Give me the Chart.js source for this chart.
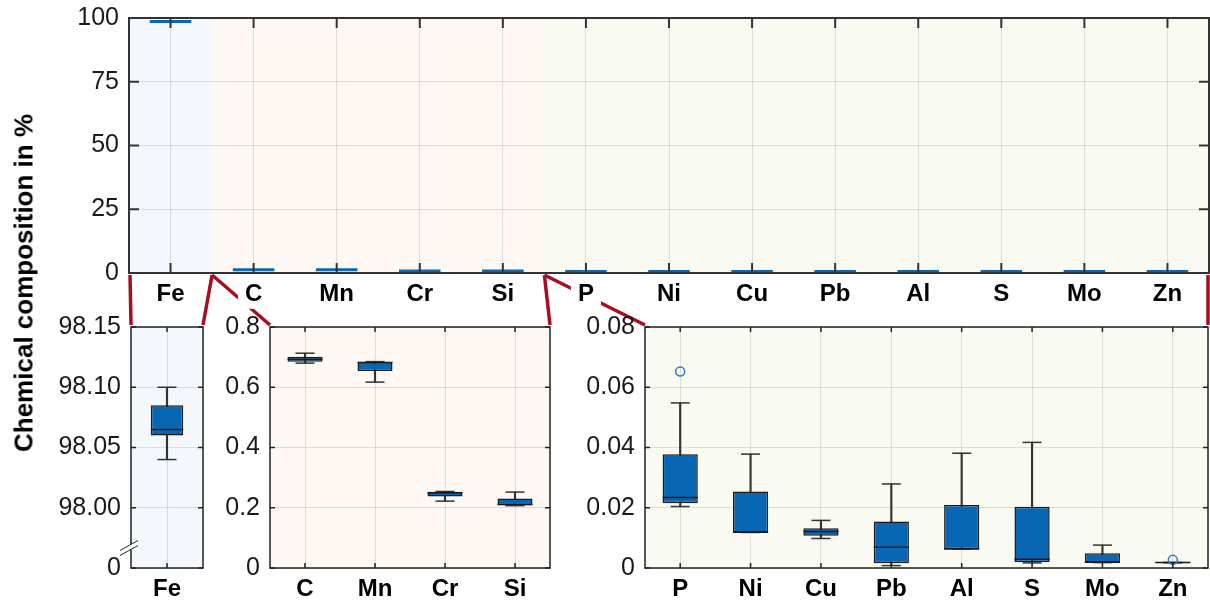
<!DOCTYPE html>
<html>
<head>
<meta charset="utf-8">
<script src="https://cdn.jsdelivr.net/npm/chart.js@4.4.1/dist/chart.umd.min.js"></script>
<style>
body { margin: 0; background: #fff; }
#wrap { position: relative; width: 1210px; height: 602px; overflow: hidden; }
#wrap canvas { position: absolute; }
#ytitle {
    position: absolute; left: 24px; top: 283px;
    transform: translate(-50%, -50%) rotate(-90deg);
    font: bold 26px 'Liberation Sans', Arial, sans-serif;
    white-space: nowrap; color: #000;
}
</style>
</head>
<body>
<div id="wrap">
    <canvas id="links" width="1210" height="602" style="left:0;top:0"></canvas>
    <canvas id="overview" width="1210" height="320" style="left:0;top:0"></canvas>
    <canvas id="feZoom" width="206" height="302" style="left:0;top:300px"></canvas>
    <canvas id="alloyZoom" width="350" height="302" style="left:206px;top:300px"></canvas>
    <canvas id="traceZoom" width="654" height="302" style="left:556px;top:300px"></canvas>
    <div id="ytitle">Chemical composition in %</div>
</div>
<script>
// elements, grouped like the three zoom panels
const majorEl = ['Fe'];
const alloyEl = ['C', 'Mn', 'Cr', 'Si'];
const traceEl = ['P', 'Ni', 'Cu', 'Pb', 'Al', 'S', 'Mo', 'Zn'];
const elements = [...majorEl, ...alloyEl, ...traceEl];

// box plot statistics in %, same order as elements
const whiskerLow  = [98.040, 0.680, 0.617, 0.222, 0.207, 0.0204, 0.0118, 0.0098, 0.0008, 0.0063, 0.0017, 0.0018, 0.0018];
const q1          = [98.060, 0.685, 0.654, 0.237, 0.208, 0.0215, 0.0118, 0.0107, 0.0016, 0.0063, 0.0020, 0.0018, 0.0018];
const median      = [98.065, 0.693, 0.682, 0.249, 0.211, 0.0234, 0.0119, 0.0121, 0.0069, 0.0063, 0.0029, 0.0019, 0.0018];
const q3          = [98.085, 0.701, 0.683, 0.253, 0.231, 0.0378, 0.0254, 0.0132, 0.0154, 0.0209, 0.0203, 0.0049, 0.0018];
const whiskerHigh = [98.100, 0.713, 0.685, 0.254, 0.252, 0.0548, 0.0378, 0.0158, 0.0279, 0.0381, 0.0417, 0.0076, 0.0018];
const outliers    = [null, null, null, null, null, 0.0652, null, null, null, null, null, null, 0.0027];

// axis ticks
const overviewTicks = [0, 25, 50, 75, 100];
const feTicks = [97.95, 98.00, 98.05, 98.10, 98.15];   // 97.95 is shown as "0" (axis break)
const alloyTicks = [0, 0.2, 0.4, 0.6, 0.8];
const traceTicks = [0, 0.02, 0.04, 0.06, 0.08];

const FONT = "'Liberation Sans', Arial, Helvetica, sans-serif";
const BOX_BLUE = '#0867b4';
const BAND = { major: '#f4f8fc', alloy: '#fdf8f4', trace: '#f9faf2' };
const GRID = 'rgba(0,0,0,0.11)';

Chart.defaults.font.family = FONT;

// background bands, box frame and inward ticks like MATLAB
const panelPlugin = {
    id: 'panel',
    beforeDraw(chart, args, opts) {
        const {ctx, chartArea: a, scales: {x}} = chart;
        const cw = x.width / x.ticks.length;
        ctx.save();
        opts.bands.forEach(b => {
            const l = Math.max(a.left, x.getPixelForValue(b.from) - cw / 2);
            const r = Math.min(a.right, x.getPixelForValue(b.to) + cw / 2);
            ctx.fillStyle = b.color;
            ctx.fillRect(l, a.top, r - l, a.bottom - a.top);
        });
        ctx.restore();
    },
    afterDraw(chart, args, opts) {
        const {ctx, chartArea: a, scales: {x, y}} = chart;
        const L = opts.tickLen;
        ctx.save();
        ctx.strokeStyle = opts.frameColor;
        ctx.lineWidth = opts.frameWidth;
        ctx.beginPath();
        x.ticks.forEach((t, i) => {
            const px = x.getPixelForTick(i);
            ctx.moveTo(px, a.bottom); ctx.lineTo(px, a.bottom - L);
            ctx.moveTo(px, a.top); ctx.lineTo(px, a.top + L);
        });
        y.ticks.forEach((t, i) => {
            const py = y.getPixelForTick(i);
            ctx.moveTo(a.left, py); ctx.lineTo(a.left + L, py);
            ctx.moveTo(a.right, py); ctx.lineTo(a.right - L, py);
        });
        ctx.stroke();
        ctx.strokeRect(a.left, a.top, a.right - a.left, a.bottom - a.top);
        if (opts.breakAt !== undefined) {
            // axis break marks
            const by = y.getPixelForValue(opts.breakAt);
            const bx = a.left;
            ctx.fillStyle = '#fff';
            ctx.beginPath();
            ctx.moveTo(bx - 11, by + 3); ctx.lineTo(bx + 7, by - 7);
            ctx.lineTo(bx + 7, by - 2); ctx.lineTo(bx - 11, by + 8);
            ctx.closePath();
            ctx.fill();
            ctx.lineWidth = 1;
            ctx.strokeStyle = '#222';
            ctx.beginPath();
            ctx.moveTo(bx - 11, by + 3); ctx.lineTo(bx + 7, by - 7);
            ctx.moveTo(bx - 11, by + 8); ctx.lineTo(bx + 7, by - 2);
            ctx.stroke();
        }
        ctx.restore();
    }
};

function fixedTicks(list) {
    return scale => { scale.ticks = list.map(v => ({value: v})); };
}

// keep the plot area exactly where the layout padding puts it
function fitAxis(w, h) {
    return s => {
        if (w !== null) s.width = w;
        if (h !== null) s.height = h;
        s.paddingTop = 0; s.paddingBottom = 0;
        s.paddingLeft = 0; s.paddingRight = 0;
    };
}

// 概览图 (all elements, 0-100 %)
const overview = new Chart(document.getElementById('overview'), {
    type: 'bar',
    data: {
        labels: elements,
        datasets: [{
            type: 'line',
            data: outliers,
            showLine: false,
            pointStyle: 'circle',
            pointRadius: 2.5,
            pointBorderColor: '#2a7bcb',
            pointBackgroundColor: 'rgba(0,0,0,0)',
            pointBorderWidth: 1.2,
            order: 0
        }, {
            type: 'bar',
            data: elements.map((e, i) => [q1[i], q3[i]]),
            backgroundColor: BOX_BLUE,
            borderWidth: 0,
            minBarLength: 3,
            barPercentage: 0.5,
            categoryPercentage: 1,
            grouped: false,
            order: 1
        }]
    },
    options: {
        responsive: false,
        animation: false,
        devicePixelRatio: 1,
        layout: {autoPadding: false, padding: {left: 0, right: 1, top: 18, bottom: 0}},
        plugins: {
            legend: {display: false},
            tooltip: {enabled: false},
            panel: {
                bands: [
                    {from: 0, to: 0, color: BAND.major},
                    {from: 1, to: 4, color: BAND.alloy},
                    {from: 5, to: 12, color: BAND.trace}
                ],
                tickLen: 10, frameColor: '#333', frameWidth: 2
            }
        },
        scales: {
            x: {
                offset: true,
                grid: {color: GRID, offset: false, drawTicks: false},
                border: {display: false},
                ticks: {
                    font: {size: 24, weight: 'bold'}, color: '#000', padding: 7,
                    maxRotation: 0, autoSkip: false,
                    showLabelBackdrop: true, backdropColor: '#fff',
                    backdropPadding: {left: 7, right: 7, top: 0, bottom: 0}
                },
                afterFit: fitAxis(null, 47)
            },
            y: {
                min: 0, max: 100,
                afterBuildTicks: fixedTicks(overviewTicks),
                grid: {color: GRID, drawTicks: false},
                border: {display: false},
                ticks: {font: {size: 25}, color: '#1a1a1a', padding: 10},
                afterFit: fitAxis(129, null)
            }
        }
    },
    plugins: [panelPlugin]
});

// zoomed box plot panel for one group of elements
function zoomPanel(id, names, yMin, yMax, tickList, fmt, yWidth, padRight, band, barPct, breakAt) {
    const idx = names.map(n => elements.indexOf(n));
    const pick = arr => idx.map(i => arr[i]);
    const halfBox = ctx => {
        const s = ctx.chart.scales.x;
        return s.width / names.length * barPct / 2;
    };
    const cap = {type: 'line', showLine: false, pointStyle: 'line', pointRadius: 9.5,
        pointBorderColor: '#333', pointBorderWidth: 1.5, order: 3};
    return new Chart(document.getElementById(id), {
        type: 'bar',
        data: {
            labels: names,
            datasets: [
                {type: 'bar', data: idx.map(i => [whiskerLow[i], whiskerHigh[i]]),
                    backgroundColor: '#333', barThickness: 1.5, grouped: false, order: 4},
                {...cap, data: pick(whiskerLow)},
                {...cap, data: pick(whiskerHigh)},
                {type: 'bar', data: idx.map(i => [q1[i], q3[i]]),
                    backgroundColor: BOX_BLUE, borderColor: '#1a1a1a', borderWidth: 1.5,
                    borderSkipped: false, barPercentage: barPct, categoryPercentage: 1,
                    grouped: false, order: 2},
                {type: 'line', data: pick(median), showLine: false, pointStyle: 'line',
                    pointRadius: halfBox, pointBorderColor: '#1a1a1a', pointBorderWidth: 1.5, order: 1},
                {type: 'line', data: pick(outliers), showLine: false, pointStyle: 'circle',
                    pointRadius: 4.5, pointBorderColor: '#2a7bcb', pointBackgroundColor: 'rgba(0,0,0,0)',
                    pointBorderWidth: 1.5, order: 0}
            ]
        },
        options: {
            responsive: false,
            animation: false,
            devicePixelRatio: 1,
            layout: {autoPadding: false, padding: {left: 0, right: padRight, top: 27, bottom: 0}},
            plugins: {
                legend: {display: false},
                tooltip: {enabled: false},
                panel: {
                    bands: [{from: 0, to: names.length - 1, color: band}],
                    tickLen: 5, frameColor: '#222', frameWidth: 1.5, breakAt: breakAt
                }
            },
            scales: {
                x: {
                    offset: true,
                    grid: {color: GRID, offset: false, drawTicks: false},
                    border: {display: false},
                    ticks: {font: {size: 24, weight: 'bold'}, color: '#000', padding: 7,
                        maxRotation: 0, autoSkip: false},
                    afterFit: fitAxis(null, 34)
                },
                y: {
                    min: yMin, max: yMax,
                    afterBuildTicks: fixedTicks(tickList),
                    grid: {color: GRID, drawTicks: false},
                    border: {display: false},
                    ticks: {font: {size: 25}, color: '#1a1a1a', padding: 10, callback: fmt},
                    afterFit: fitAxis(yWidth, null)
                }
            }
        },
        plugins: [panelPlugin]
    });
}

const feZoom = zoomPanel('feZoom', majorEl, 97.95, 98.15, feTicks,
    v => (v < 97.99 ? '0' : v.toFixed(2)), 131, 3, BAND.major, 0.45, 97.967);
const alloyZoom = zoomPanel('alloyZoom', alloyEl, 0, 0.8, alloyTicks,
    v => (v === 0 ? '0' : v.toFixed(1)), 64, 6, BAND.alloy, 0.5);
const traceZoom = zoomPanel('traceZoom', traceEl, 0, 0.08, traceTicks,
    v => (v === 0 ? '0' : v.toFixed(2)), 89, 2, BAND.trace, 0.5);

// red connector lines from the overview to the zoom panels
function drawLinks() {
    const ctx = document.getElementById('links').getContext('2d');
    const a = overview.chartArea;
    const xs = overview.scales.x;
    const cw = xs.width / elements.length;
    const edge = i => xs.getPixelForValue(i) - cw / 2;
    const box = ch => {
        const c = ch.canvas;
        return {l: ch.chartArea.left + c.offsetLeft, r: ch.chartArea.right + c.offsetLeft,
            t: ch.chartArea.top + c.offsetTop};
    };
    const fe = box(feZoom), al = box(alloyZoom), tr = box(traceZoom);
    const y0 = a.bottom + 2;
    const links = [
        [a.left + 1, fe.l, fe.t],
        [edge(1), fe.r, fe.t],
        [edge(1), al.l, al.t],
        [edge(5), al.r, al.t],
        [edge(5), tr.l, tr.t],
        [a.right - 1, tr.r, tr.t]
    ];
    ctx.strokeStyle = '#a50f1f';
    ctx.lineWidth = 3.5;
    ctx.beginPath();
    links.forEach(([x0, x1, y1]) => {
        ctx.moveTo(x0, y0);
        ctx.lineTo(x1, y1 - 2);
    });
    ctx.stroke();
}
drawLinks();
</script>
</body>
</html>
